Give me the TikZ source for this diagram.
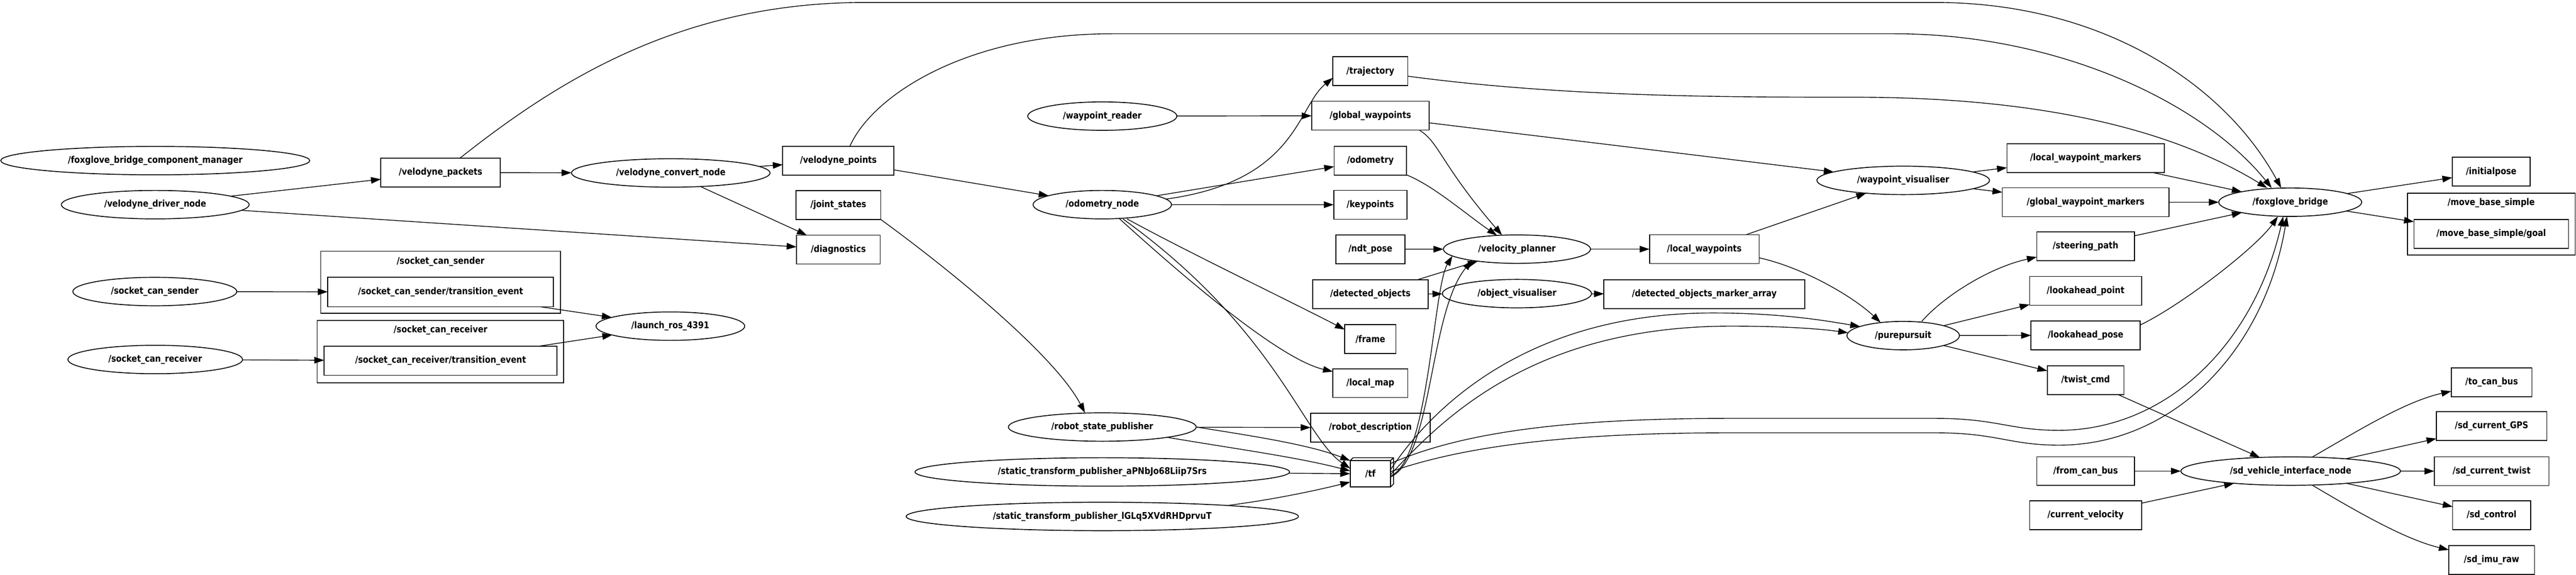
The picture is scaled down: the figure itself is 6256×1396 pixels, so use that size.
\documentclass[tikz,border=0pt]{standalone}
\usepackage{fontspec}
\setmainfont{DejaVu Sans}[FakeStretch=0.87]
\usetikzlibrary{positioning,shapes.geometric,arrows.meta}

\begin{document}
\begin{tikzpicture}[%
    x=0.01cm, y=-0.01cm,
    line width=0.5pt,
    rosnode/.style={%
        draw,
        ellipse,
        line width=0.6pt,
        inner sep=0pt,
        outer sep=0pt,
        minimum height=0.69cm,
        font=\fontsize{6.4}{7.6}\selectfont\bfseries
    },
    topic/.style={%
        draw,
        rectangle,
        line width=0.6pt,
        inner sep=0pt,
        outer sep=0pt,
        minimum height=0.70cm,
        font=\fontsize{6.4}{7.6}\selectfont\bfseries
    },
    title/.style={%
        inner sep=0pt,
        font=\fontsize{6.4}{7.6}\selectfont\bfseries
    },
    cluster/.style={%
        draw,
        line width=0.6pt
    },
    >={Triangle[length=2.4mm,width=1.6mm]}
]
\useasboundingbox (0,0) rectangle (6256,1396);

% ROS nodes, left part
\node[rosnode, minimum width=7.50cm] (fgcm) at (377,390) {/foxglove\_bridge\_component\_manager};
\node[rosnode, minimum width=4.56cm] (vdrv) at (377,497) {/velodyne\_driver\_node};
\node[rosnode, minimum width=3.98cm] (scs) at (376,708) {/socket\_can\_sender};
\node[rosnode, minimum width=4.24cm] (scr) at (377,873) {/socket\_can\_receiver};
\node[rosnode, minimum width=4.82cm] (vconv) at (1629,420) {/velodyne\_convert\_node};
\node[rosnode, minimum width=3.61cm] (launch) at (1628,792) {/launch\_ros\_4391};

% Velodyne topics
\node[topic, minimum width=2.90cm] (vpk) at (1070,419) {/velodyne\_packets};
\node[topic, minimum width=2.70cm] (vpts) at (2036,390) {/velodyne\_points};
\node[topic, minimum width=2.06cm, below=0.38cm of vpts] (js) {/joint\_states};
\node[topic, minimum width=2.03cm, below=0.38cm of js] (diag) {/diagnostics};

% Socket CAN groups
\draw[cluster] (779,610) rectangle (1361,761);
\node[title] (sndtitle) at (1070,635) {/socket\_can\_sender};
\node[topic, minimum width=5.48cm, minimum height=0.72cm] (sste) at (1070,709) {/socket\_can\_sender/transition\_event};
\draw[cluster] (770,778) rectangle (1369,930);
\node[title] (rcvtitle) at (1070,802) {/socket\_can\_receiver};
\node[topic, minimum width=5.65cm, minimum height=0.71cm] (srte) at (1070,876) {/socket\_can\_receiver/transition\_event};

% ROS nodes, middle part
\node[rosnode, minimum width=3.62cm] (wpr) at (2677,282) {/waypoint\_reader};
\node[rosnode, minimum width=3.36cm] (odom) at (2677,497) {/odometry\_node};
\node[rosnode, minimum width=4.56cm] (rsp) at (2677,1037) {/robot\_state\_publisher};
\node[rosnode, minimum width=9.09cm, below=0.40cm of rsp] (stfa) {/static\_transform\_publisher\_aPNbJo68Liip7Srs};
\node[rosnode, minimum width=9.52cm, below=0.39cm of stfa] (stfl) {/static\_transform\_publisher\_lGLq5XVdRHDprvuT};

% Topic column
\node[topic, minimum width=1.82cm] (traj) at (3328,173) {/trajectory};
\node[topic, minimum width=2.85cm, below=0.38cm of traj] (gwp) {/global\_waypoints};
\node[topic, minimum width=1.76cm, below=0.39cm of gwp] (odo) {/odometry};
\node[topic, minimum width=1.78cm, below=0.37cm of odo] (kp) {/keypoints};
\node[topic, minimum width=1.68cm, below=0.38cm of kp] (ndt) {/ndt\_pose};
\node[topic, minimum width=2.80cm, below=0.39cm of ndt] (dobj) {/detected\_objects};
\node[topic, minimum width=1.24cm, below=0.39cm of dobj] (frame) {/frame};
\node[topic, minimum width=1.82cm, below=0.37cm of frame] (lmap) {/local\_map};
\node[topic, minimum width=2.90cm, below=0.38cm of lmap] (rdesc) {/robot\_description};
\node[topic, minimum width=0.98cm, minimum height=0.64cm, below=0.45cm of rdesc] (tf) {/tf};
\draw[line width=0.6pt] (tf.north west) -- ++(7,-7) -- ([shift={(7,-7)}]tf.north east)
    -- ([shift={(7,-7)}]tf.south east) -- (tf.south east) (tf.north east) -- ++(7,-7);

% Planner
\node[rosnode, minimum width=3.57cm] (vplan) at (3684,605) {/velocity\_planner};
\node[rosnode, minimum width=3.62cm, below=0.39cm of vplan] (ovis) {/object\_visualiser};
\node[topic, minimum width=2.66cm] (lwp) at (4139,605) {/local\_waypoints};
\node[topic, minimum width=4.87cm, below=0.39cm of lwp] (doma) {/detected\_objects\_marker\_array};
\node[rosnode, minimum width=4.19cm] (wvis) at (4622,438) {/waypoint\_visualiser};
\node[rosnode, minimum width=2.73cm] (pp) at (4622,815) {/purepursuit};

% Right topic column
\node[topic, minimum width=3.82cm] (lwm) at (5065,384) {/local\_waypoint\_markers};
\node[topic, minimum width=4.04cm, below=0.37cm of lwm] (gwm) {/global\_waypoint\_markers};
\node[topic, minimum width=2.37cm, below=0.37cm of gwm] (steer) {/steering\_path};
\node[topic, minimum width=2.72cm, below=0.38cm of steer] (lpt) {/lookahead\_point};
\node[topic, minimum width=2.65cm, below=0.38cm of lpt] (lpose) {/lookahead\_pose};
\node[topic, minimum width=1.86cm, below=0.39cm of lpose] (twist) {/twist\_cmd};
\node[topic, minimum width=2.37cm] (fcan) at (5065,1144) {/from\_can\_bus};
\node[topic, minimum width=2.72cm, below=0.37cm of fcan] (cvel) {/current\_velocity};

% Bridge and vehicle interface
\node[rosnode, minimum width=3.47cm] (fgb) at (5562,491) {/foxglove\_bridge};
\node[rosnode, minimum width=5.33cm] (sdvi) at (5563,1144) {/sd\_vehicle\_interface\_node};

% Outputs
\node[topic, minimum width=1.89cm] (init) at (6050,417) {/initialpose};
\draw[cluster] (5847,469) rectangle (6254,619);
\node[title] (mbstitle) at (6050,493) {/move\_base\_simple};
\node[topic, minimum width=3.75cm] (goal) at (6050,568) {/move\_base\_simple/goal};
\node[topic, minimum width=1.96cm] (tcan) at (6051,928) {/to\_can\_bus};
\node[topic, minimum width=2.68cm, below=0.37cm of tcan] (gps) {/sd\_current\_GPS};
\node[topic, minimum width=2.78cm, below=0.39cm of gps] (ctw) {/sd\_current\_twist};
\node[topic, minimum width=1.89cm, below=0.37cm of ctw] (ctrl) {/sd\_control};
\node[topic, minimum width=2.08cm, below=0.39cm of ctrl] (imu) {/sd\_imu\_raw};

% Arrows, velodyne
\draw[->] (vdrv) -- (vpk);
\draw[->] (vdrv) -- (diag);
\draw[->] (vpk) -- (vconv);
\draw[->] (vconv) -- (vpts);
\draw[->] (vconv) -- (diag);
\draw[->] (vpts) -- (odom);
\draw[->] ([xshift=0.47cm]vpk.north) .. controls (1350,200) and (1650,6) .. (2100,6) -- (4700,6)
    .. controls (5100,6) and (5400,200) .. ([xshift=-0.22cm]fgb.north);
\draw[->] ([xshift=0.28cm]vpts.north) .. controls (2120,230) and (2350,82) .. (2700,82) -- (4600,82)
    .. controls (5000,82) and (5350,250) .. ([xshift=-0.45cm]fgb.north);

% Arrows, socket can
\draw[->] (scs) -- (sste);
\draw[->] (scr) -- (srte);
\draw[->] ([xshift=-0.31cm]sste.south east) -- (launch);
\draw[->] ([xshift=-0.43cm]srte.north east) -- (launch);

% Arrows, odometry and transforms
\draw[->] (js.south east) .. controls (2300,650) and (2560,860) .. ([xshift=-0.42cm]rsp.north);
\draw[->] (wpr) -- (gwp);
\draw[->] (odom.5) .. controls (3150,440) and (3150,260) .. (traj.190);
\draw[->] (odom) -- (odo);
\draw[->] (odom) -- (kp);
\draw[->] ([xshift=0.60cm]odom.south) .. controls (2880,610) and (3130,730) .. ([yshift=0.23cm]frame.west);
\draw[->] ([xshift=0.42cm]odom.south) .. controls (2850,650) and (3100,870) .. ([yshift=-0.07cm]lmap.north west);
\draw[->] ([xshift=0.50cm]odom.south) .. controls (3100,800) and (3165,1060) .. ([yshift=0.13cm]tf.west);
\draw[->] (rsp) -- (rdesc);
\draw[->] (rsp.east) .. controls (3050,1060) and (3180,1080) .. (tf.north west);
\draw[->] (rsp.-9) .. controls (3000,1090) and (3150,1110) .. ([yshift=0.07cm]tf.west);
\draw[->] (stfa) -- (tf);
\draw[->] (stfl.5) .. controls (3100,1212) and (3200,1190) .. ([yshift=-0.20cm]tf.west);

% Arrows, planner
\draw[->] ([xshift=1.19cm]gwp.south) .. controls (3495,345) and (3500,400) .. (vplan.137);
\draw[->] (odo) .. controls (3480,450) and (3560,520) .. (vplan);
\draw[->] (ndt) -- (vplan);
\draw[->] (dobj) -- (vplan);
\draw[->] ([yshift=-0.05cm]tf.east) .. controls (3470,1120) and (3480,700) .. (vplan.186);
\draw[->] ([yshift=-0.08cm]tf.east) .. controls (3480,1110) and (3470,760) .. (vplan.194);
\draw[->] (dobj) -- (ovis);
\draw[->] (ovis) -- (doma);
\draw[->] (vplan) -- (lwp);
\draw[->] (gwp) -- (wvis);
\draw[->] (lwp) -- (wvis);
\draw[->] ([yshift=-0.21cm]lwp.east) .. controls (4380,650) and (4500,720) .. (pp.150);
\draw[->] ([yshift=0.10cm]tf.east) .. controls (3470,1000) and (3700,760) .. (4160,760)
    .. controls (4330,760) and (4440,780) .. (pp.168);
\draw[->] ([yshift=-0.02cm]tf.east) .. controls (3500,1020) and (3720,792) .. (4204,792)
    .. controls (4350,792) and (4430,800) .. (pp.177);

% Arrows, visualisers and pure pursuit
\draw[->] (wvis) -- (lwm);
\draw[->] (wvis) -- (gwm);
\draw[->] ([xshift=0.45cm]pp.north) .. controls (4720,720) and (4830,650) .. ([yshift=-0.26cm]steer.west);
\draw[->] (pp) -- (lpt);
\draw[->] (pp) -- (lpose);
\draw[->] (pp) -- (twist);

% Arrows into the bridge
\draw[->] ([yshift=-0.12cm]traj.east) .. controls (3800,236) and (4200,236) .. (4500,236)
    .. controls (5000,236) and (5300,330) .. ([xshift=-0.56cm]fgb.north);
\draw[->] (lwm) -- (fgb);
\draw[->] (gwm) -- (fgb);
\draw[->] (steer) -- (fgb);
\draw[->] ([yshift=0.25cm]lpose.east) .. controls (5300,740) and (5480,600) .. ([xshift=-0.30cm]fgb.south);
\draw[->] ([yshift=0.25cm]tf.east) .. controls (3550,1050) and (3800,1016) .. (4200,1016) -- (4700,1016)
    .. controls (4850,1016) and (4880,1045) .. (5000,1045)
    .. controls (5250,1045) and (5470,850) .. ([xshift=-0.17cm]fgb.south);
\draw[->] ([yshift=0.05cm]tf.east) .. controls (3550,1085) and (3800,1051) .. (4200,1051) -- (4700,1051)
    .. controls (4850,1051) and (4880,1081) .. (5000,1081)
    .. controls (5280,1081) and (5500,850) .. ([xshift=-0.08cm]fgb.south);
\draw[->] (fgb) -- (init);
\draw[->] (fgb) -- (goal);

% Arrows, vehicle interface
\draw[->] (twist) -- (sdvi);
\draw[->] (fcan) -- (sdvi);
\draw[->] (cvel) -- (sdvi);
\draw[->] ([xshift=0.53cm]sdvi.north) .. controls (5720,1050) and (5840,975) .. ([yshift=-0.22cm]tcan.west);
\draw[->] (sdvi) -- (gps);
\draw[->] (sdvi) -- (ctw);
\draw[->] (sdvi) -- (ctrl);
\draw[->] ([xshift=0.53cm]sdvi.south) .. controls (5720,1240) and (5840,1310) .. ([yshift=0.25cm]imu.west);

\end{tikzpicture}
\end{document}
